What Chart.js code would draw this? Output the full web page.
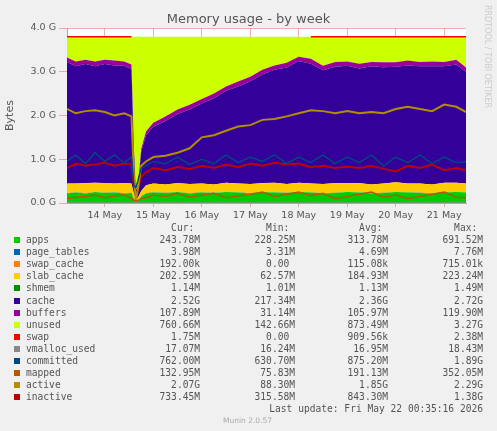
<!DOCTYPE html>
<html>
<head>
<meta charset="utf-8">
<script src="https://cdn.jsdelivr.net/npm/chart.js@4/dist/chart.umd.min.js"></script>
<style>
  body { margin: 0; width: 497px; height: 431px; background: #f0f0f0; position: relative; overflow: hidden; font-family: "DejaVu Sans", sans-serif; }
  #wrap { position: absolute; left: 0; top: 0; width: 497px; height: 225px; }
  #title { position: absolute; top: 11px; left: 0; width: 497px; text-align: center; font-size: 13px; color: #555; }
  #rrd { position: absolute; left: 492px; top: 5px; transform-origin: left top; transform: rotate(90deg); font-size: 8px; color: #ccc; white-space: nowrap; }
  .row { position: absolute; left: 0; height: 12px; font-family: "DejaVu Sans Mono", monospace; font-size: 9.6px; color: #555; line-height: 12px; white-space: pre; }
  .row span { position: absolute; }
  .box { position: absolute; left: 14px; top: 3px; width: 6px; height: 6px; }
  .num { text-align: right; width: 90px; }
</style>
</head>
<body>
<div id="wrap"><canvas id="c" width="497" height="225"></canvas></div>
<div id="title">Memory usage - by week</div>
<div id="rrd">RRDTOOL / TOBI OETIKER</div>
<div id="legend"></div>
<script>
// time in days relative to 14 May 00:00
const times = [-0.78,-0.6,-0.4,-0.2,0,0.2,0.4,0.55,0.6,0.64,0.68,0.75,0.85,1,1.25,1.5,1.75,2,2.25,2.5,2.75,3,3.25,3.5,3.75,4,4.25,4.5,4.75,5,5.25,5.5,5.75,6,6.25,6.5,6.75,7,7.25,7.45];
const dayLabels = ["14 May","15 May","16 May","17 May","18 May","19 May","20 May","21 May"];

// values in GB
const apps =      [0.22,0.24,0.22,0.25,0.23,0.24,0.22,0.23,0.10,0.05,0.05,0.15,0.22,0.24,0.23,0.25,0.22,0.24,0.23,0.25,0.24,0.22,0.25,0.24,0.23,0.25,0.24,0.22,0.23,0.25,0.24,0.22,0.23,0.25,0.24,0.23,0.22,0.24,0.25,0.24];
const pageTables =[0.004,0.004,0.004,0.004,0.004,0.004,0.004,0.004,0.003,0.003,0.003,0.004,0.004,0.004,0.004,0.004,0.004,0.004,0.004,0.004,0.004,0.004,0.004,0.004,0.004,0.004,0.004,0.004,0.004,0.004,0.004,0.004,0.004,0.004,0.004,0.004,0.004,0.004,0.004,0.004];
const swapCache = [0,0,0,0,0,0,0,0,0,0,0,0,0,0,0,0,0,0,0,0,0,0,0,0,0,0,0,0,0,0,0,0,0,0,0,0,0,0,0,0];
const slabCache = [0.22,0.2,0.23,0.21,0.22,0.2,0.23,0.21,0.1,0.06,0.06,0.12,0.18,0.2,0.19,0.2,0.21,0.2,0.19,0.21,0.2,0.21,0.2,0.22,0.2,0.21,0.2,0.21,0.22,0.2,0.21,0.2,0.21,0.22,0.2,0.21,0.2,0.22,0.21,0.2];
const shmem =     [0.001,0.001,0.001,0.001,0.001,0.001,0.001,0.001,0.001,0.001,0.001,0.001,0.001,0.001,0.001,0.001,0.001,0.001,0.001,0.001,0.001,0.001,0.001,0.001,0.001,0.001,0.001,0.001,0.001,0.001,0.001,0.001,0.001,0.001,0.001,0.001,0.001,0.001,0.001,0.001];
const cache =     [2.78,2.68,2.72,2.66,2.72,2.7,2.68,2.62,1.0,0.15,0.22,0.9,1.15,1.3,1.45,1.58,1.7,1.83,1.97,2.1,2.22,2.35,2.48,2.58,2.66,2.78,2.74,2.6,2.66,2.68,2.62,2.7,2.66,2.64,2.7,2.68,2.7,2.66,2.7,2.55];
const buffers =   [0.1,0.11,0.1,0.11,0.1,0.11,0.1,0.1,0.05,0.02,0.02,0.06,0.08,0.09,0.1,0.1,0.11,0.1,0.11,0.1,0.11,0.1,0.11,0.1,0.11,0.1,0.11,0.1,0.11,0.1,0.11,0.1,0.11,0.1,0.11,0.1,0.11,0.1,0.11,0.1];
const unused =    [0.475,0.565,0.525,0.565,0.525,0.545,0.565,0.635,2.546,3.516,3.446,2.565,2.165,1.965,1.825,1.665,1.555,1.425,1.295,1.135,1.025,0.915,0.755,0.655,0.595,0.455,0.505,0.665,0.575,0.565,0.615,0.575,0.585,0.585,0.545,0.575,0.565,0.575,0.525,0.705];
const swap =      [0.002,0.002,0.002,0.002,0.002,0.002,0.002,0.002,null,null,null,null,null,null,null,null,null,null,null,null,null,null,null,null,null,null,0.002,0.002,0.002,0.002,0.002,0.002,0.002,0.002,0.002,0.002,0.002,0.002,0.002,0.002];
const vmallocUsed=[0.017,0.017,0.017,0.017,0.017,0.017,0.017,0.017,0.016,0.016,0.016,0.017,0.017,0.017,0.017,0.017,0.017,0.017,0.017,0.017,0.017,0.017,0.017,0.017,0.017,0.017,0.017,0.017,0.017,0.017,0.017,0.017,0.017,0.017,0.017,0.017,0.017,0.017,0.017,0.017];
const committed = [0.95,1.1,0.9,1.15,0.95,1.1,0.92,1.05,0.4,0.35,0.5,0.8,0.85,0.95,0.9,1.05,0.88,1.0,0.9,1.1,0.92,1.05,0.95,1.1,0.9,1.05,0.92,1.1,0.9,1.05,0.92,1.1,0.85,1.05,0.92,1.1,0.9,1.05,0.92,0.95];
const mapped =    [0.1,0.13,0.15,0.18,0.12,0.16,0.19,0.1,0.06,0.05,0.06,0.1,0.12,0.18,0.15,0.22,0.13,0.18,0.22,0.12,0.16,0.2,0.25,0.15,0.2,0.25,0.17,0.22,0.1,0.15,0.2,0.25,0.13,0.18,0.1,0.15,0.2,0.25,0.13,0.12];
const active =    [2.15,2.05,2.1,2.12,2.08,2.0,2.05,1.98,0.6,0.05,0.3,0.85,0.95,1.05,1.08,1.15,1.25,1.5,1.55,1.65,1.75,1.78,1.9,1.92,1.98,2.05,2.12,2.1,2.05,2.1,2.05,2.08,2.05,2.15,2.2,2.15,2.1,2.25,2.2,2.08];
const inactive =  [0.8,0.9,0.85,0.88,0.92,0.85,0.9,0.88,0.4,0.28,0.3,0.6,0.7,0.8,0.75,0.82,0.78,0.85,0.8,0.88,0.82,0.9,0.85,0.92,0.88,0.9,0.82,0.85,0.8,0.83,0.8,0.85,0.78,0.72,0.85,0.8,0.88,0.75,0.8,0.75];

const legendRows = [
  ["apps", "#00cc00", "243.78M", "228.25M", "313.78M", "691.52M"],
  ["page_tables", "#0066b3", "3.98M", "3.31M", "4.69M", "7.76M"],
  ["swap_cache", "#ff8000", "192.00k", "0.00 ", "115.08k", "715.01k"],
  ["slab_cache", "#ffcc00", "202.59M", "62.57M", "184.93M", "223.24M"],
  ["shmem", "#008f00", "1.14M", "1.01M", "1.13M", "1.49M"],
  ["cache", "#330099", "2.52G", "217.34M", "2.36G", "2.72G"],
  ["buffers", "#990099", "107.89M", "31.14M", "105.97M", "119.90M"],
  ["unused", "#ccff00", "760.66M", "142.66M", "873.49M", "3.27G"],
  ["swap", "#ff0000", "1.75M", "0.00 ", "909.56k", "2.38M"],
  ["vmalloc_used", "#888888", "17.07M", "16.24M", "16.95M", "18.43M"],
  ["committed", "#00487d", "762.00M", "630.70M", "875.20M", "1.89G"],
  ["mapped", "#b35a00", "132.95M", "75.83M", "191.13M", "352.05M"],
  ["active", "#b38f00", "2.07G", "88.30M", "1.85G", "2.29G"],
  ["inactive", "#bd0000", "733.45M", "315.58M", "843.30M", "1.38G"]
];

const pts = (arr) => times.map((t, i) => ({ x: t, y: arr[i] }));

function area(label, arr, color) {
  return { label, data: pts(arr), stack: "mem", fill: "-1",
    backgroundColor: color, borderColor: color, borderWidth: 0, pointRadius: 0, tension: 0 };
}
// each line gets its own stack so it is not summed with the areas
function line(label, arr, color, w) {
  return { label, data: pts(arr), stack: "line_" + label, fill: false,
    borderColor: color, borderWidth: w || 1.5, pointRadius: 0, tension: 0 };
}

const swapSet = area("swap", swap, "#ff0000");
swapSet.fill = false;
swapSet.borderWidth = 1.5;
swapSet.spanGaps = false;

const datasets = [
  Object.assign(area("apps", apps, "#00cc00"), { fill: "origin" }),
  area("page_tables", pageTables, "#0066b3"),
  area("swap_cache", swapCache, "#ff8000"),
  area("slab_cache", slabCache, "#ffcc00"),
  area("shmem", shmem, "#008f00"),
  area("cache", cache, "#330099"),
  area("buffers", buffers, "#990099"),
  area("unused", unused, "#ccff00"),
  swapSet,
  line("vmalloc_used", vmallocUsed, "#888888", 1),
  line("committed", committed, "#00487d", 1.5),
  line("mapped", mapped, "#b35a00", 1.5),
  line("active", active, "#b38f00", 2),
  line("inactive", inactive, "#bd0000", 2)
];

const yTicks = { min: 0, max: 4.0, stepSize: 1.0 };
const gridStyle = { color: "rgba(230,120,120,0.6)", borderDash: [1, 2] };

new Chart(document.getElementById("c"), {
  type: "line",
  data: { datasets },
  options: {
    responsive: false,
    animation: false,
    layout: { padding: { top: 28, right: 31, left: 0, bottom: 0 } },
    plugins: { legend: { display: false }, tooltip: { enabled: false }, filler: { drawTime: "beforeDatasetsDraw" } },
    scales: {
      x: {
        type: "linear", min: -0.78, max: 7.45,
        afterFit: (s) => { s.height = 22; },
        afterBuildTicks: (s) => { s.ticks = dayLabels.map((_, i) => ({ value: i })); },
        ticks: { color: "#555", font: { family: "DejaVu Sans", size: 9.5 }, maxRotation: 0,
          callback: (v) => dayLabels[v] || "" },
        grid: { color: gridStyle.color, tickLength: 4 },
        border: { color: "#aaa" }
      },
      y: {
        stacked: true, min: yTicks.min, max: yTicks.max,
        afterFit: (s) => { s.width = 67; },
        ticks: { stepSize: yTicks.stepSize, color: "#555", font: { family: "DejaVu Sans", size: 9.5 },
          callback: (v) => v.toFixed(1) + " G" },
        title: { display: true, text: "Bytes", color: "#555", font: { family: "DejaVu Sans", size: 11 } },
        grid: { color: gridStyle.color },
        border: { color: "#aaa" }
      }
    }
  },
  plugins: [{
    id: "bg",
    beforeDraw: (ch) => {
      const a = ch.chartArea, ctx = ch.ctx;
      ctx.save(); ctx.fillStyle = "#fff"; ctx.fillRect(a.left, a.top, a.right - a.left, a.bottom - a.top); ctx.restore();
    }
  }]
});

const legend = document.getElementById("legend");
const cols = [110, 205, 298, 393];
let html = `<div class="row" style="top:222px">` +
  ["Cur:", "Min:", "Avg:", "Max:"].map((h, i) => `<span class="num" style="left:${cols[i]}px">${h} </span>`).join("") + `</div>`;
legendRows.forEach((r, k) => {
  const top = 234 + k * 12.1;
  html += `<div class="row" style="top:${top}px"><span class="box" style="background:${r[1]}"></span><span style="left:26px">${r[0]}</span>` +
    r.slice(2).map((v, i) => `<span class="num" style="left:${cols[i]}px">${v}</span>`).join("") + `</div>`;
});
html += `<div class="row" style="top:403px"><span class="num" style="left:200px;width:283px">Last update: Fri May 22 00:35:16 2026</span></div>`;
html += `<div class="row" style="top:415px;font-family:'DejaVu Sans';font-size:7.5px;color:#aaa"><span style="left:223px">Munin 2.0.57</span></div>`;
legend.innerHTML = html;
</script>
</body>
</html>
